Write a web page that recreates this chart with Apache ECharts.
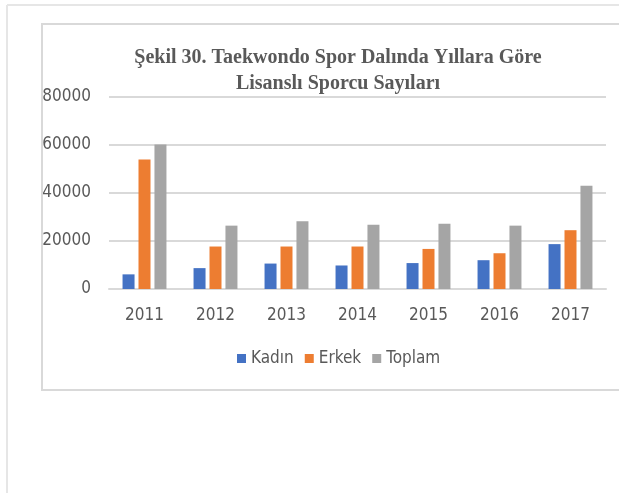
<!DOCTYPE html>
<html lang="tr">
<head>
<meta charset="UTF-8">
<title>Taekwondo</title>
<script src="https://cdn.jsdelivr.net/npm/echarts@6/dist/echarts.min.js"></script>
<style>
  html, body { margin: 0; padding: 0; background: #fff; }
  #main { width: 619px; height: 493px; }
</style>
</head>
<body>
<div id="main"></div>
<script>
  // data
  var years = ['2011', '2012', '2013', '2014', '2015', '2016', '2017'];
  var kadin = [6100, 8700, 10600, 9800, 10800, 12000, 18700];
  var erkek = [54000, 17700, 17700, 17700, 16700, 14900, 24500];
  var toplam = [60200, 26400, 28200, 26800, 27200, 26400, 43000];

  var gray = '#595959';
  var labelFont = "'DejaVu Sans Condensed', 'Roboto', sans-serif";

  var myChart = echarts.init(document.getElementById('main'));

  function bar(name, data, color) {
    return {
      name: name,
      type: 'bar',
      data: data,
      barWidth: 12,
      barGap: '33%',
      itemStyle: { color: color }
    };
  }

  var option = {
    backgroundColor: '#fff',
    animation: false,
    title: {
      text: 'Şekil 30. Taekwondo Spor Dalında Yıllara Göre\nLisanslı Sporcu Sayıları',
      left: 333,
      top: 40,
      textAlign: 'center',
      textStyle: {
        fontFamily: "'Liberation Serif', serif",
        fontWeight: 'bold',
        fontSize: 20,
        lineHeight: 26,
        color: gray
      }
    },
    graphic: [
      // outer frame
      { type: 'line', shape: { x1: 7, y1: 5, x2: 619, y2: 5 }, style: { stroke: '#e6e6e6', lineWidth: 2 } },
      { type: 'line', shape: { x1: 7, y1: 5, x2: 7, y2: 493 }, style: { stroke: '#e6e6e6', lineWidth: 2 } },
      // chart box
      { type: 'rect', shape: { x: 42, y: 24, width: 620, height: 366 }, style: { fill: 'none', stroke: '#d9d9d9', lineWidth: 2 } }
    ],
    legend: {
      data: ['Kadın', 'Erkek', 'Toplam'],
      left: 232,
      top: 345,
      icon: 'rect',
      itemWidth: 9,
      itemHeight: 9,
      itemGap: 11,
      textStyle: { fontFamily: labelFont, fontSize: 17, color: gray }
    },
    grid: { left: 109, right: 13, top: 97, bottom: 204 },
    xAxis: {
      type: 'category',
      data: years,
      axisLine: { lineStyle: { color: '#d9d9d9', width: 2 } },
      axisTick: { show: false },
      axisLabel: { margin: 18, fontFamily: labelFont, fontSize: 17, color: gray }
    },
    yAxis: {
      type: 'value',
      min: 0,
      max: 80000,
      interval: 20000,
      axisLine: { show: false },
      axisTick: { show: false },
      splitLine: { lineStyle: { color: '#d9d9d9', width: 2 } },
      axisLabel: {
        margin: 18, fontFamily: labelFont, fontSize: 17, color: gray,
        formatter: function (v) { return String(v); }
      }
    },
    series: [
      bar('Kadın', kadin, '#4472C4'),
      bar('Erkek', erkek, '#ED7D31'),
      bar('Toplam', toplam, '#A5A5A5')
    ]
  };
  myChart.setOption(option);
</script>
</body>
</html>
